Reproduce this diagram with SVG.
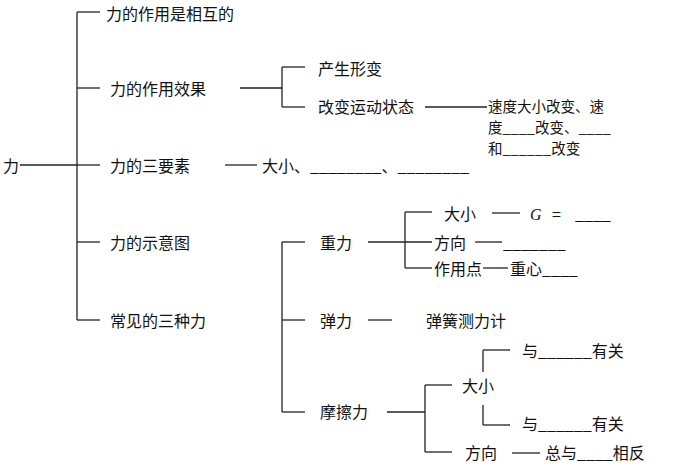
<svg xmlns="http://www.w3.org/2000/svg" width="700" height="470" viewBox="0 0 700 470">
<style>
text{font-family:"Noto Sans CJK SC","Liberation Serif",serif;font-size:16px;fill:#111}
.s{font-size:14.5px}
line{stroke:#222;stroke-width:1.3}
</style>
<rect width="700" height="470" fill="#fff"/>
<g id="connectors">
<line x1="20" y1="165" x2="77" y2="165"/>
<line x1="77" y1="12" x2="77" y2="320"/>
<line x1="77" y1="12" x2="100" y2="12"/>
<line x1="77" y1="88" x2="100" y2="88"/>
<line x1="77" y1="165" x2="100" y2="165"/>
<line x1="77" y1="242" x2="100" y2="242"/>
<line x1="77" y1="320" x2="100" y2="320"/>
<line x1="240" y1="88" x2="282" y2="88"/>
<line x1="282" y1="67" x2="282" y2="107"/>
<line x1="282" y1="67" x2="305" y2="67"/>
<line x1="282" y1="107" x2="305" y2="107"/>
<line x1="425" y1="107" x2="487" y2="107"/>
<line x1="225" y1="165" x2="257" y2="165"/>
<line x1="282" y1="242" x2="282" y2="412"/>
<line x1="282" y1="242" x2="305" y2="242"/>
<line x1="282" y1="320" x2="305" y2="320"/>
<line x1="282" y1="412" x2="305" y2="412"/>
<line x1="368" y1="242" x2="432" y2="242"/>
<line x1="405" y1="212" x2="405" y2="268"/>
<line x1="405" y1="212" x2="432" y2="212"/>
<line x1="405" y1="268" x2="432" y2="268"/>
<line x1="492" y1="213" x2="520" y2="213"/>
<line x1="475" y1="242" x2="502" y2="242"/>
<line x1="483" y1="268" x2="508" y2="268"/>
<line x1="368" y1="320" x2="392" y2="320"/>
<line x1="387" y1="412" x2="425" y2="412"/>
<line x1="425" y1="385" x2="425" y2="452"/>
<line x1="425" y1="385" x2="452" y2="385"/>
<line x1="425" y1="452" x2="452" y2="452"/>
<line x1="483" y1="350" x2="483" y2="372"/>
<line x1="483" y1="405" x2="483" y2="425"/>
<line x1="483" y1="350" x2="510" y2="350"/>
<line x1="483" y1="425" x2="510" y2="425"/>
<line x1="512" y1="453" x2="540" y2="453"/>
</g>
<g id="root"><text x="3" y="172">力</text></g>
<g id="n1"><text x="106" y="20">力的作用是相互的</text></g>
<g id="n2"><text x="110" y="95">力的作用效果</text></g>
<g id="n2a"><text x="318" y="75">产生形变</text></g>
<g id="n2b"><text x="318" y="113">改变运动状态</text></g>
<g id="n2c"><text class="s" x="488" y="112">速度大小改变、速</text><text class="s" x="488" y="133">度____改变、____</text><text class="s" x="488" y="154">和______改变</text></g>
<g id="n3"><text x="110" y="172">力的三要素</text><text x="262" y="172">大小、________、________</text></g>
<g id="n4"><text x="110" y="249">力的示意图</text></g>
<g id="n5"><text x="110" y="327">常见的三种力</text></g>
<g id="g"><text x="320" y="249">重力</text>
<text x="444" y="220">大小</text><text x="530" y="220" font-style="italic" style="font-family:'Liberation Serif',serif">G</text><text x="552" y="220">=</text><text x="575" y="220">____</text>
<text x="434" y="249">方向</text><text x="503" y="249">_______</text>
<text x="434" y="275">作用点</text><text x="510" y="275">重心____</text></g>
<g id="e"><text x="320" y="327">弹力</text><text x="426" y="327">弹簧测力计</text></g>
<g id="f"><text x="320" y="418">摩擦力</text><text x="462" y="392">大小</text>
<text x="522" y="357">与______有关</text><text x="522" y="430">与______有关</text>
<text x="465" y="459">方向</text><text x="545" y="459">总与____相反</text></g>
</svg>
